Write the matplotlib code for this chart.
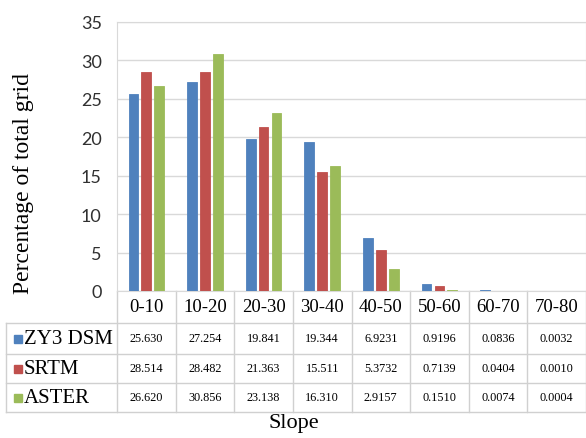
import numpy as np
import matplotlib
matplotlib.use("Agg")
import matplotlib.pyplot as plt
from matplotlib.patches import Rectangle
from matplotlib.lines import Line2D
from matplotlib.transforms import blended_transform_factory

# Dados
categorias = ["0-10", "10-20", "20-30", "30-40", "40-50", "50-60", "60-70", "70-80"]
series = ["ZY3 DSM", "SRTM", "ASTER"]
zy3 = [25.630, 27.254, 19.841, 19.344, 6.9231, 0.9196, 0.0836, 0.0032]
srtm = [28.514, 28.482, 21.363, 15.511, 5.3732, 0.7139, 0.0404, 0.0010]
aster = [26.620, 30.856, 23.138, 16.310, 2.9157, 0.1510, 0.0074, 0.0004]
textos = [
    ["25.630", "27.254", "19.841", "19.344", "6.9231", "0.9196", "0.0836", "0.0032"],
    ["28.514", "28.482", "21.363", "15.511", "5.3732", "0.7139", "0.0404", "0.0010"],
    ["26.620", "30.856", "23.138", "16.310", "2.9157", "0.1510", "0.0074", "0.0004"],
]
cores = ["#4F81BD", "#C0504D", "#9BBB59"]

plt.rcParams["font.family"] = ["Liberation Serif", "DejaVu Serif"]

W, H = 586, 439
fig = plt.figure(figsize=(W / 100, H / 100), dpi=100)


def fx(px):
    return px / W


def fy(py):
    return 1 - py / H


ax = fig.add_axes([fx(117), fy(292), fx(586) - fx(117), fy(23) - fy(292)])

x = np.arange(len(categorias))
largura = 0.165
passo = 0.22
for k, vals in enumerate([zy3, srtm, aster]):
    ax.bar(x + (k - 1) * passo, vals, largura, color=cores[k],
           edgecolor=cores[k], linewidth=0.6, zorder=3)

ax.set_xlim(-0.5, len(categorias) - 0.5)
ax.set_ylim(0, 35)
ax.set_yticks(range(0, 36, 5))
ax.set_xticks([])
ax.grid(axis="y", color="#D9D9D9", linewidth=1, zorder=0)
for s in ax.spines.values():
    s.set_color("#D9D9D9")
ax.tick_params(axis="y", length=0, pad=11, labelsize=13, labelcolor="#303030")
for t in ax.get_yticklabels():
    t.set_family(["Lato", "DejaVu Sans"])

# tabela de dados
tr = blended_transform_factory(ax.transData, fig.transFigure)
cor_linha = "#D0D0D0"
linhas_y = [324, 355, 384, 413]
for py in linhas_y:
    fig.add_artist(Line2D([fx(6), 1], [fy(py), fy(py)], color=cor_linha, lw=1))
for i in range(len(categorias) + 1):
    ax.add_artist(Line2D([i - 0.5, i - 0.5], [fy(292), fy(413)], color=cor_linha,
                         lw=1, transform=tr, clip_on=False))
fig.add_artist(Line2D([fx(6), fx(6)], [fy(324), fy(413)], color=cor_linha, lw=1))

for i, c in enumerate(categorias):
    ax.text(i, fy(308), c, transform=tr, ha="center", va="center", fontsize=13.5)

centros = [339.5, 369.5, 398.5]
for k, nome in enumerate(series):
    cy = centros[k]
    fig.add_artist(Rectangle((fx(14), fy(cy + 4)), fx(8), fy(0) - fy(8),
                             transform=fig.transFigure, color=cores[k]))
    fig.text(fx(24), fy(cy), nome, ha="left", va="center", fontsize=15)
    for i, t in enumerate(textos[k]):
        ax.text(i, fy(cy), t, transform=tr, ha="center", va="center", fontsize=8.8)

fig.text(fx(24), fy(184), "Percentage of total grid", rotation=90,
         ha="center", va="center", fontsize=17)
fig.text(fx(294), fy(424), "Slope", ha="center", va="center", fontsize=16)

fig.savefig("out.png", dpi=100)
